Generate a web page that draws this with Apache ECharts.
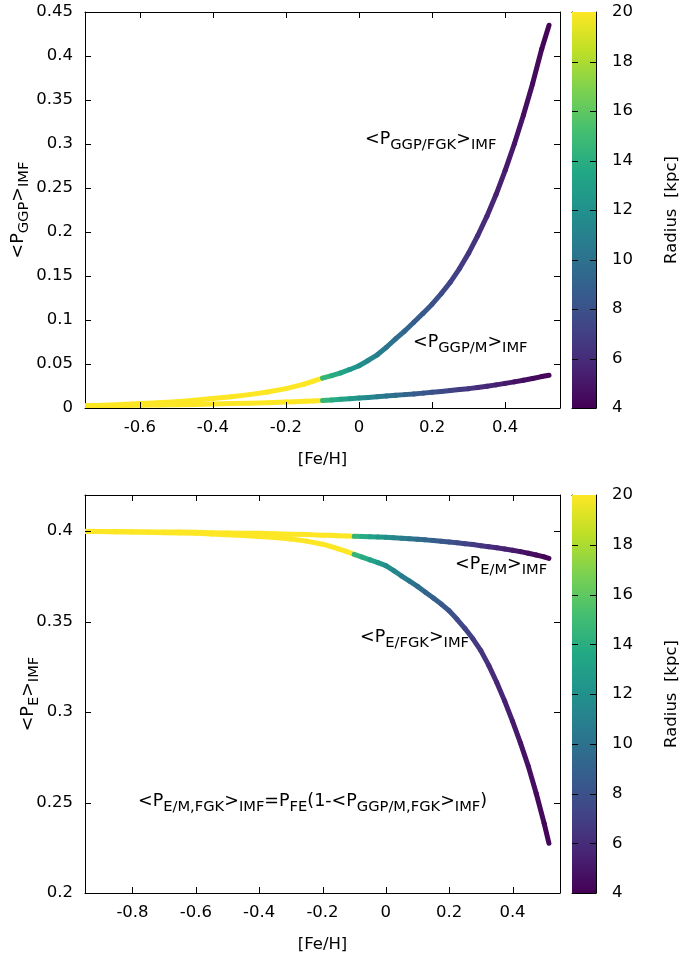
<!DOCTYPE html>
<html>
<head>
<meta charset="utf-8">
<script src="https://cdn.jsdelivr.net/npm/echarts@6/dist/echarts.min.js"></script>
<style>
    html, body { margin: 0; padding: 0; background: #fff; }
    #chart { width: 681px; height: 957px; }
</style>
</head>
<body>
<div id="chart"></div>
<script>
// ---------- top panel: <P_GGP>_IMF vs [Fe/H] ----------
const fehTop = [-0.75, -0.70, -0.65, -0.60, -0.55, -0.50, -0.45, -0.40, -0.35, -0.30, -0.25, -0.20,
    -0.175, -0.15, -0.125, -0.10, -0.075, -0.05, -0.025, 0.00,
    0.025, 0.05, 0.075, 0.10, 0.125, 0.15, 0.175, 0.20, 0.225, 0.25,
    0.275, 0.30, 0.325, 0.35, 0.375, 0.40, 0.425, 0.45, 0.475, 0.50, 0.52];
const ggpFGK = [0.0025, 0.0031, 0.0039, 0.0050, 0.0060, 0.0072, 0.0088, 0.0108, 0.0128, 0.0152, 0.0182, 0.0220,
    0.0245, 0.0272, 0.0305, 0.0340, 0.0368, 0.0400, 0.0438, 0.0480,
    0.0540, 0.0605, 0.0690, 0.0785, 0.0875, 0.0975, 0.1075, 0.1180, 0.1300, 0.1430,
    0.1585, 0.1760, 0.1960, 0.2180, 0.2425, 0.2700, 0.3000, 0.3330, 0.3685, 0.4080, 0.4350];
const ggpM = [0.0025, 0.0027, 0.0029, 0.0031, 0.0034, 0.0037, 0.0041, 0.0045, 0.0050, 0.0055, 0.0061, 0.0068,
    0.0072, 0.0076, 0.0080, 0.0085, 0.0092, 0.0099, 0.0106, 0.0113,
    0.0120, 0.0128, 0.0136, 0.0144, 0.0152, 0.0160, 0.0169, 0.0178, 0.0188, 0.0198,
    0.0209, 0.0220, 0.0233, 0.0247, 0.0263, 0.0280, 0.0297, 0.0315, 0.0335, 0.0357, 0.0372];
// galactocentric radius (kpc) of each point
const radiusTop = [20, 20, 20, 20, 20, 20, 20, 20, 20, 20, 20, 20,
    20, 20, 20, 14.5, 13.8, 13.1, 12.4, 11.8,
    11.2, 10.6, 10.1, 9.6, 9.1, 8.7, 8.3, 7.9, 7.5, 7.1,
    6.7, 6.4, 6.0, 5.7, 5.4, 5.1, 4.8, 4.6, 4.4, 4.2, 4.0];

// ---------- bottom panel: <P_E>_IMF vs [Fe/H] ----------
const fehBot = [-0.95, -0.90, -0.85, -0.80, -0.75, -0.70, -0.65, -0.60, -0.55, -0.50, -0.45, -0.40, -0.35, -0.30, -0.25, -0.20,
    -0.175, -0.15, -0.125, -0.10, -0.075, -0.05, -0.025, 0.00,
    0.025, 0.05, 0.075, 0.10, 0.125, 0.15, 0.175, 0.20, 0.225, 0.25,
    0.275, 0.30, 0.325, 0.35, 0.375, 0.40, 0.425, 0.45, 0.475, 0.50, 0.515];
const eFGK = [0.3999, 0.3998, 0.3997, 0.3996, 0.3994, 0.3992, 0.3990, 0.3988, 0.3984, 0.3980, 0.3976, 0.3971, 0.3965, 0.3957, 0.3945, 0.3928,
    0.3916, 0.3902, 0.3888, 0.3872, 0.3857, 0.3841, 0.3826, 0.3810,
    0.3782, 0.3752, 0.3724, 0.3695, 0.3663, 0.3630, 0.3597, 0.3560, 0.3513, 0.3462,
    0.3405, 0.3340, 0.3258, 0.3165, 0.3062, 0.2950, 0.2830, 0.2700, 0.2550, 0.2385, 0.2275];
const eM = [0.3998, 0.3998, 0.3997, 0.3997, 0.3996, 0.3995, 0.3995, 0.3994, 0.3992, 0.3990, 0.3989, 0.3988, 0.3986, 0.3983, 0.3981, 0.3978,
    0.3977, 0.3975, 0.3974, 0.3972, 0.3971, 0.3969, 0.3968, 0.3966,
    0.3964, 0.3961, 0.3958, 0.3955, 0.3952, 0.3948, 0.3944, 0.3940, 0.3936, 0.3931,
    0.3926, 0.3920, 0.3914, 0.3908, 0.3902, 0.3895, 0.3887, 0.3878, 0.3868, 0.3858, 0.3850];
const radiusBot = [20, 20, 20, 20, 20, 20, 20, 20, 20, 20, 20, 20, 20, 20, 20, 20,
    20, 20, 20, 14.5, 13.8, 13.1, 12.4, 11.8,
    11.2, 10.6, 10.1, 9.6, 9.1, 8.7, 8.3, 7.9, 7.5, 7.1,
    6.7, 6.4, 6.0, 5.7, 5.4, 5.1, 4.8, 4.6, 4.4, 4.2, 4.0];

// ticks
const xTicksTop = [-0.6, -0.4, -0.2, 0, 0.2, 0.4];
const xTicksBot = [-0.8, -0.6, -0.4, -0.2, 0, 0.2, 0.4];
const yTicksTop = [0.05, 0.1, 0.15, 0.2, 0.25, 0.3, 0.35, 0.4];
const yTicksBot = [0.2, 0.25, 0.3, 0.35, 0.4];
const cbTicks = [6, 8, 10, 12, 14, 16, 18];

// viridis
const viridis = ['#440154', '#482475', '#414487', '#355f8d', '#2a788e', '#21918c',
    '#22a884', '#44bf70', '#7ad151', '#bddf26', '#fde725'];

const FONT = 'DejaVu Sans';
const richText = {
    n: { fontFamily: FONT, fontSize: 17.5, color: '#000', verticalAlign: 'bottom', padding: [0, 0, 5, 0] },
    s: { fontFamily: FONT, fontSize: 14.7, color: '#000', verticalAlign: 'bottom' }
};

let chart = echarts.init(document.getElementById('chart'));

// 一条曲线: 相邻两点连线, 颜色取自 visualMap
function curveSeries(xs, ys, rs, axisIdx) {
    return {
        type: 'custom',
        xAxisIndex: axisIdx,
        yAxisIndex: axisIdx,
        clip: true,
        encode: { x: 0, y: 1 },
        data: xs.map((x, i) => [x, ys[i], rs[i]]),
        renderItem: (params, api) => {
            const i = params.dataIndex;
            if (i >= xs.length - 1) return null;
            const p0 = api.coord([xs[i], ys[i]]);
            const p1 = api.coord([xs[i + 1], ys[i + 1]]);
            return {
                type: 'line',
                shape: { x1: p0[0], y1: p0[1], x2: p1[0], y2: p1[1] },
                style: { stroke: api.visual('color'), lineWidth: 5, lineCap: 'round' }
            };
        }
    };
}

// colorbar: one rect with a gradient
function colorbarSeries(xIdx, yIdx) {
    return {
        type: 'custom',
        xAxisIndex: xIdx,
        yAxisIndex: yIdx,
        z: 1,
        data: [[0, 4]],
        renderItem: (params, api) => {
            const p0 = api.coord([0, 4]);
            const p1 = api.coord([1, 20]);
            return {
                type: 'rect',
                shape: { x: p0[0], y: p1[1], width: p1[0] - p0[0], height: p0[1] - p1[1] },
                style: {
                    fill: new echarts.graphic.LinearGradient(0, 1, 0, 0,
                        viridis.map((c, k) => ({ offset: k / (viridis.length - 1), color: c })))
                }
            };
        }
    };
}

// 刻度: 四边都画, 朝里 (gnuplot 风格)
function tickSeries(xIdx, yIdx, xTicks, yTicks, xr, yr) {
    const len = 6;
    const data = xTicks.map(v => [v, yr[0], 0]).concat(yTicks.map(v => [xr[0], v, 1]));
    return {
        type: 'custom',
        xAxisIndex: xIdx,
        yAxisIndex: yIdx,
        z: 5,
        silent: true,
        encode: { x: 0, y: 1 },
        data: data,
        renderItem: (params, api) => {
            const d = data[params.dataIndex];
            const st = { stroke: '#000', lineWidth: 1 };
            if (d[2] === 0) {
                const a = api.coord([d[0], yr[0]]);
                const b = api.coord([d[0], yr[1]]);
                const x = Math.round(a[0]) + 0.5;
                return { type: 'group', children: [
                    { type: 'line', shape: { x1: x, y1: a[1], x2: x, y2: a[1] - len }, style: st },
                    { type: 'line', shape: { x1: x, y1: b[1], x2: x, y2: b[1] + len }, style: st }
                ] };
            }
            const a = api.coord([xr[0], d[1]]);
            const b = api.coord([xr[1], d[1]]);
            const y = Math.round(a[1]) + 0.5;
            return { type: 'group', children: [
                { type: 'line', shape: { x1: a[0], y1: y, x2: a[0] + len, y2: y }, style: st },
                { type: 'line', shape: { x1: b[0], y1: y, x2: b[0] - len, y2: y }, style: st }
            ] };
        }
    };
}

function labelStyle(extra) {
    return Object.assign({ fontFamily: FONT, fontSize: 16.5, color: '#000' }, extra);
}
function mkLine() {
    return { show: true, onZero: false, lineStyle: { color: '#000', width: 1 } };
}

function xAx(grid, min, ticks, mirror) {
    return {
        type: 'value', gridIndex: grid, min: min, max: 0.55,
        position: mirror ? 'top' : 'bottom',
        axisLine: mkLine(),
        splitLine: { show: false },
        axisTick: { show: false },
        axisLabel: labelStyle({ show: !mirror, margin: 11, customValues: ticks }),
        name: mirror ? '' : '[Fe/H]',
        nameLocation: 'middle',
        nameGap: 43,
        nameMoveOverlap: false,
        nameTextStyle: labelStyle()
    };
}

function yAx(grid, opt, mirror) {
    return Object.assign({
        type: 'value', gridIndex: grid,
        position: mirror ? 'right' : 'left',
        axisLine: mkLine(),
        splitLine: { show: false },
        axisTick: { show: false },
        axisLabel: labelStyle({ show: !mirror, margin: 12 }),
        nameLocation: 'middle',
        nameGap: 53,
        nameMoveOverlap: false,
        nameTextStyle: { rich: richText }
    }, opt);
}

function cbAx(grid, labels) {
    return {
        type: 'value', gridIndex: grid, min: 4, max: 20, interval: 2,
        position: labels ? 'right' : 'left',
        axisLine: mkLine(),
        splitLine: { show: false },
        axisTick: { show: false },
        axisLabel: labelStyle({ show: labels, margin: 16 }),
        name: labels ? 'Radius  [kpc]' : '',
        nameLocation: 'middle',
        nameRotate: 90,
        nameGap: 67,
        nameMoveOverlap: false,
        nameTextStyle: labelStyle()
    };
}

function cbX(grid, top) {
    return {
        type: 'value', gridIndex: grid, min: 0, max: 1,
        position: top ? 'top' : 'bottom',
        axisLine: mkLine(), axisTick: { show: false }, axisLabel: { show: false }, splitLine: { show: false }
    };
}

function note(x, y, str) {
    return {
        type: 'text', left: x, top: y, z: 10,
        style: { text: str, rich: richText }
    };
}

let option = {
    backgroundColor: '#fff',
    animation: false,
    grid: [
        { left: 85, top: 12, width: 475, height: 396 },
        { left: 85, top: 495, width: 475, height: 398 },
        { left: 572, top: 12, width: 24, height: 396 },
        { left: 572, top: 495, width: 24, height: 398 }
    ],
    xAxis: [
        xAx(0, -0.75, xTicksTop, false),
        xAx(0, -0.75, xTicksTop, true),
        xAx(1, -0.95, xTicksBot, false),
        xAx(1, -0.95, xTicksBot, true),
        cbX(2, false), cbX(2, true),
        cbX(3, false), cbX(3, true)
    ],
    yAxis: [
        yAx(0, { min: 0, max: 0.45, interval: 0.05, name: '{n|<P}{s|GGP}{n|>}{s|IMF}' }, false),
        yAx(0, { min: 0, max: 0.45, interval: 0.05 }, true),
        yAx(1, { min: 0.2, max: 0.42, name: '{n|<P}{s|E}{n|>}{s|IMF}', nameGap: 43,
            axisLabel: labelStyle({ margin: 12, customValues: yTicksBot }) }, false),
        yAx(1, { min: 0.2, max: 0.42, axisLabel: { show: false } }, true),
        cbAx(2, false),
        cbAx(2, true),
        cbAx(3, false),
        cbAx(3, true)
    ],
    visualMap: {
        show: false,
        type: 'continuous',
        seriesIndex: [0, 1, 2, 3],
        dimension: 2,
        min: 4,
        max: 20,
        inRange: { color: viridis }
    },
    series: [
        curveSeries(fehTop, ggpFGK, radiusTop, 0),
        curveSeries(fehTop, ggpM, radiusTop, 0),
        curveSeries(fehBot, eFGK, radiusBot, 2),
        curveSeries(fehBot, eM, radiusBot, 2),
        colorbarSeries(4, 5),
        colorbarSeries(6, 7),
        tickSeries(0, 0, xTicksTop, yTicksTop, [-0.75, 0.55], [0, 0.45]),
        tickSeries(2, 2, xTicksBot, yTicksBot, [-0.95, 0.55], [0.2, 0.42]),
        tickSeries(4, 5, [], cbTicks, [0, 1], [4, 20]),
        tickSeries(6, 7, [], cbTicks, [0, 1], [4, 20])
    ],
    graphic: [
        note(365, 130, '{n|<P}{s|GGP/FGK}{n|>}{s|IMF}'),
        note(413, 333, '{n|<P}{s|GGP/M}{n|>}{s|IMF}'),
        note(455, 555, '{n|<P}{s|E/M}{n|>}{s|IMF}'),
        note(360, 628, '{n|<P}{s|E/FGK}{n|>}{s|IMF}'),
        note(138, 792, '{n|<P}{s|E/M,FGK}{n|>}{s|IMF}{n|=P}{s|FE}{n|(1-<P}{s|GGP/M,FGK}{n|>}{s|IMF}{n|)}')
    ]
};
chart.setOption(option);
</script>
</body>
</html>
